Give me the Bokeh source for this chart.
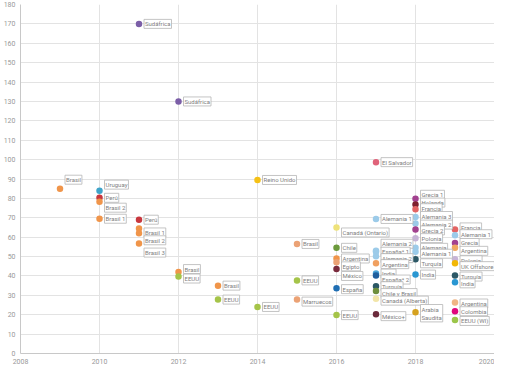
from bokeh.plotting import figure
from bokeh.models import ColumnDataSource, Range1d, FixedTicker, Label
from bokeh.embed import file_html
from bokeh.resources import INLINE

labels = ["Sudáfrica", "Sudáfrica", "Brasil", "Uruguay", "Perú", "Brasil 2", "Brasil 1", "Perú",
          "Brasil 1", "Brasil 2", "Brasil 3", "Brasil", "EEUU", "Brasil", "EEUU", "Reino Unido",
          "EEUU", "Brasil", "EEUU", "Marruecos",
          "Canadá (Ontario)", "Chile", "Argentina", "Egipto", "México", "España", "EEUU",
          "El Salvador", "Alemania 1", "Alemania 2", "España* 1", "Alemania 2", "Argentina",
          "India", "España* 2", "Turquía", "Chile y Brasil", "Canadá (Alberta)", "México+",
          "Grecia 1", "Holanda", "Francia", "Alemania 3", "Alemania 2", "Grecia 2", "Polonia",
          "Alemania", "Alemania 1", "Turquía", "India", "Arabia\nSaudita",
          "Francia", "Alemania 1", "Grecia", "Argentina", "Polonia", "UK Offshore", "Turquía",
          "India", "Argentina", "Colombia", "EEUU (WI)"]
years = [2011, 2012, 2009, 2010, 2010, 2010, 2010, 2011,
         2011, 2011, 2011, 2012, 2012, 2013, 2013, 2014,
         2014, 2015, 2015, 2015,
         2016, 2016, 2016, 2016, 2016, 2016, 2016,
         2017, 2017, 2017, 2017, 2017, 2017,
         2017, 2017, 2017, 2017, 2017, 2017,
         2018, 2018, 2018, 2018, 2018, 2018, 2018,
         2018, 2018, 2018, 2018, 2018,
         2019, 2019, 2019, 2019, 2019, 2019, 2019,
         2019, 2019, 2019, 2019]
values = [170, 130, 85, 84, 80.3, 78.3, 69.5, 69,
          64.5, 62, 56.7, 42, 39.7, 35, 27.8, 89.5,
          24, 56.5, 37.7, 27.8,
          65, 54.5, 49, 47, 43.6, 33.7, 19.8,
          98.7, 69.4, 53, 52.5, 50.2, 46.6,
          41.2, 40.2, 34.7, 32.2, 28.3, 20.3,
          79.8, 76.8, 74.4, 70.4, 67, 64, 59.5,
          54.5, 52.5, 48.6, 40.7, 21.3,
          64, 61, 57, 54.5, 48.6, 46.6, 40.2,
          36.7, 26.3, 21.8, 17.3]

# styling: point colours and label vertical nudges (px)
colors = ["#7b5ea7", "#7b5ea7", "#f0954a", "#3fa4c9", "#c8373e", "#f0954a", "#f0954a", "#c8373e",
          "#f0954a", "#f0954a", "#f0954a", "#f0954a", "#a5c449", "#f0954a", "#a5c449", "#f5c116",
          "#a5c449", "#eba275", "#a5c449", "#eba275",
          "#eee27a", "#6c9a3c", "#f0954a", "#eba275", "#7a2b3d", "#1f6eb3", "#a5c449",
          "#e0637a", "#9ccbe9", "#9ccbe9", "#9ccbe9", "#9ccbe9", "#f0a060",
          "#4aa3d8", "#1f5e9e", "#2c5866", "#6e8f3d", "#f2e5a8", "#6b2a3b",
          "#a2418f", "#7e1f2e", "#e36464", "#9ccbe9", "#9ccbe9", "#a2418f", "#c6b4d6",
          "#9ccbe9", "#9ccbe9", "#2c5866", "#2a97d2", "#d5a11f",
          "#e36464", "#9ccbe9", "#a2418f", "#f0a860", "#c6b4d6", "#f2b705", "#2c5866",
          "#2a97d2", "#f0b585", "#e0067d", "#9cc64a"]
label_dy = [0, 0, 9, 6, 0, -6, 0, 0,
            -4, -7, -9, 3, -2, 0, 0, 0,
            0, 0, 0, -2,
            -5, 0, 0, -4, -7, -1, 0,
            0, 0, 7, 0, -2, -1,
            0, -4, 0, -2, -2, -2,
            4, 2, 1, 1, -1, -1, 0,
            0, -2, -4, 0, -1,
            2, 1, 0, -3, -1, -3, -1,
            -1, -1, 0, -1]

src = ColumnDataSource(dict(x=years, y=values, c=colors))

p = figure(width=494, height=366, output_backend="svg", toolbar_location=None,
           x_range=Range1d(2008, 2020), y_range=Range1d(0, 180),
           min_border_left=18, min_border_right=0, min_border_top=4, min_border_bottom=10)
p.outline_line_color = None
p.background_fill_color = "white"
p.border_fill_color = "white"

p.xaxis.ticker = FixedTicker(ticks=[2008, 2010, 2012, 2014, 2016, 2018, 2020])
p.yaxis.ticker = FixedTicker(ticks=list(range(0, 181, 10)))
for ax in (p.xaxis, p.yaxis):
    ax.major_tick_line_color = None
    ax.minor_tick_line_color = None
    ax.major_tick_out = 0
    ax.major_tick_in = 0
    ax.minor_tick_out = 0
    ax.minor_tick_in = 0
    ax.axis_line_color = "#c8c8c8"
    ax.major_label_text_color = "#999999"
    ax.major_label_text_font = "Roboto"
    ax.major_label_text_font_size = "7px"
    ax.major_label_standoff = 5
p.xgrid.grid_line_color = "#e3e3e3"
p.ygrid.grid_line_color = "#e3e3e3"

p.scatter("x", "y", source=src, size=6.5, fill_color="c", line_color=None)

for lx, ly, lt, dy in zip(years, values, labels, label_dy):
    p.add_layout(Label(x=lx, y=ly, text=lt, x_offset=5, y_offset=dy,
                       text_align="left", text_baseline="middle",
                       text_font="Roboto", text_font_size="6px", text_color="#808080",
                       background_fill_color="white", border_line_color="#b5b5b5",
                       border_line_width=0.8, padding=1))

open("out.html", "w").write(file_html(p, INLINE))
